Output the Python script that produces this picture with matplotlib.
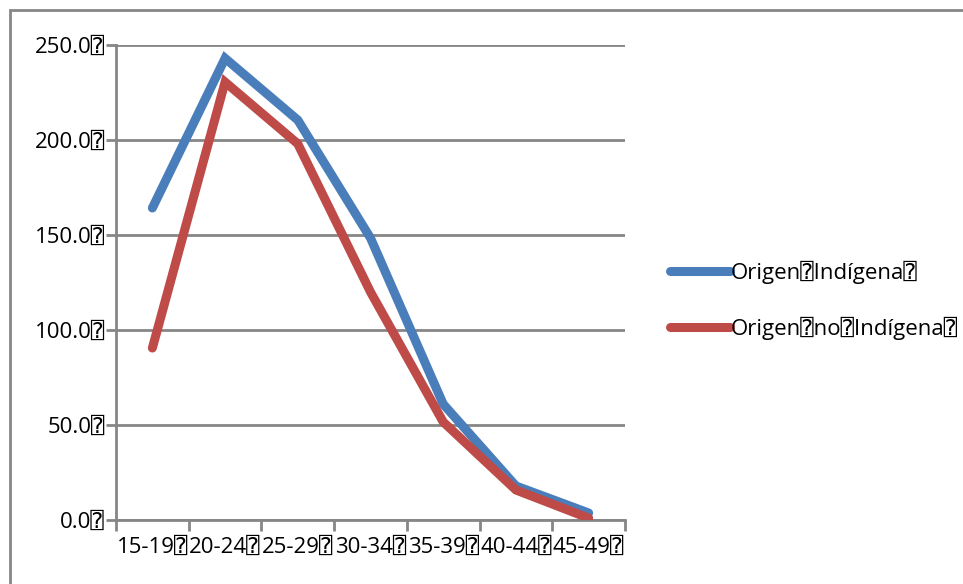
import matplotlib
matplotlib.use("Agg")
import matplotlib.pyplot as plt
from matplotlib.patches import Rectangle

categories = ["15-19", "20-24", "25-29", "30-34", "35-39", "40-44", "45-49"]
indigena = [164.2, 243.0, 210.5, 148.4, 61.0, 17.9, 3.7]
no_indigena = [90.5, 230.5, 198.0, 120.0, 51.6, 15.8, 1.0]
yticks = [0, 50, 100, 150, 200, 250]
TOFU = "\u2370"
labels = ["Origen" + TOFU + "Indígena" + TOFU, "Origen" + TOFU + "no" + TOFU + "Indígena" + TOFU]

FAM = ["Open Sans", "DejaVu Sans", "DejaVu Sans Mono"]
plt.rcParams["font.family"] = FAM
FS = 16

W, H = 963, 584
fig = plt.figure(figsize=(W / 100, H / 100), dpi=100)
ax = fig.add_axes([116 / W, 1 - 520 / H, (625 - 116) / W, (520 - 45) / H])

grey = "#868686"
x = list(range(len(categories)))
ax.plot(x, indigena, color="#4A7EBB", lw=6.5, solid_capstyle="round", solid_joinstyle="miter", label=labels[0], zorder=3)
ax.plot(x, no_indigena, color="#BE4B48", lw=6.5, solid_capstyle="round", solid_joinstyle="miter", label=labels[1], zorder=3)

ax.set_xlim(-0.5, len(categories) - 0.5)
ax.set_ylim(0, 250)
ax.set_yticks(yticks)
ax.set_yticklabels([f"{v:.1f}" + TOFU for v in yticks], fontsize=FS)
ax.set_xticks(x)
ax.set_xticklabels([c + TOFU for c in categories], fontsize=FS)
ax.tick_params(axis="x", length=0, pad=12)
ax.set_xticks([i - 0.5 for i in range(len(categories) + 1)], minor=True)
ax.tick_params(axis="x", which="minor", length=8, width=2, color=grey, direction="out")
ax.tick_params(axis="y", length=7, width=2, color=grey, direction="out", pad=1)
ax.yaxis.grid(True, color=grey, lw=2)
ax.set_axisbelow(True)
for s in ["top", "right"]:
    ax.spines[s].set_visible(False)
for s in ["left", "bottom"]:
    ax.spines[s].set_color(grey)
    ax.spines[s].set_linewidth(2)

fig.patches.append(Rectangle((10 / W, -0.1), 1.2, 1 - 10 / H + 0.1, transform=fig.transFigure,
                             fill=False, edgecolor=grey, lw=2, zorder=0))

leg = ax.legend(loc="upper left", bbox_to_anchor=(670 / W, 1 - 261 / H), bbox_transform=fig.transFigure,
                frameon=False, fontsize=FS, handlelength=2.7, handletextpad=0.05, labelspacing=1.48,
                borderaxespad=0, borderpad=0)

fig.savefig("out.png", dpi=100)
